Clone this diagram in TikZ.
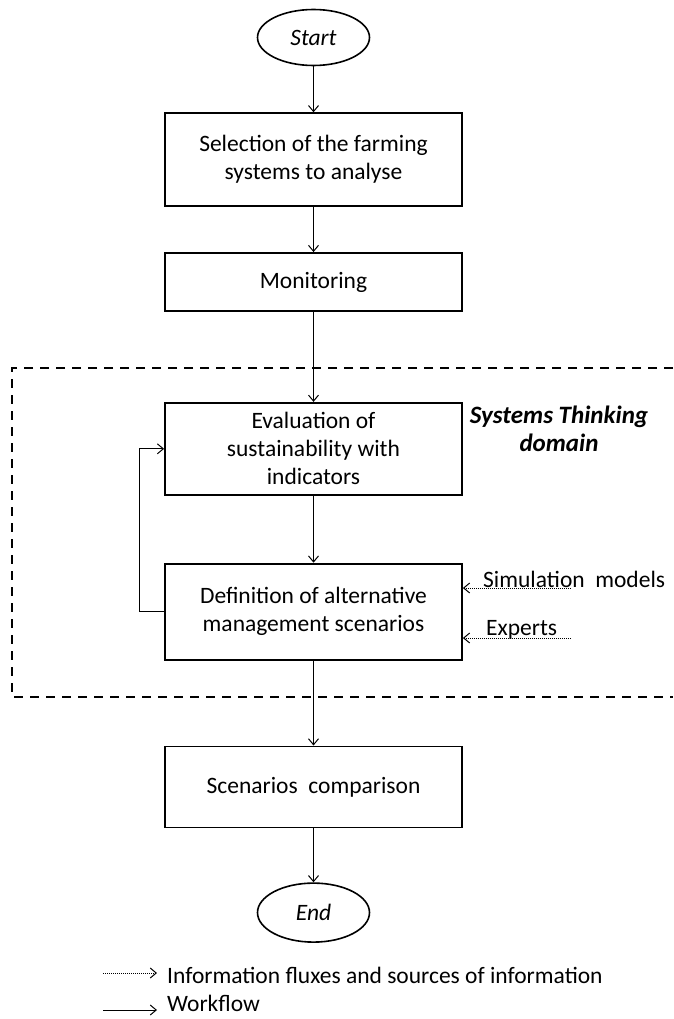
\documentclass[tikz,border=0pt]{standalone}
\usepackage{fontspec}
\setmainfont{Carlito}
\usepackage{tikz}
\usetikzlibrary{positioning,shapes,calc}
\usetikzlibrary{arrows.meta}
\newcommand{\boxfont}{\fontsize{23.5}{28}\selectfont}
\tikzstyle{stepBox} =[rectangle, draw, line width=1.8pt, minimum width=297pt, align=center, font=\boxfont]
\tikzstyle{termEll} =[ellipse, draw, line width=1.6pt, minimum width=112pt, minimum height=56pt, inner sep=0pt, font=\boxfont\itshape]
\tikzstyle{flow}    =[-{Straight Barb[length=6pt,width=10pt]}, line width=1pt]
\tikzstyle{info}    =[flow, densely dotted]
\tikzstyle{plainTxt}=[inner sep=0pt, font=\boxfont]

\begin{document}
\begin{tikzpicture}[x=1pt,y=-1pt]
      \useasboundingbox (0,0) rectangle (673,1019);
      \node[termEll] (start) at (313.5,37.5) {Start};
      \node[stepBox, minimum height=93pt] (1) [below = 46pt of start] {Selection of the farming\\systems to analyse};
      \node[stepBox, minimum height=58pt] (2) [below = 45pt of 1] {Monitoring};
      \node[stepBox, minimum height=92pt, inner ysep=2pt] (3) [below = 90pt of 2] {Evaluation of\\sustainability with\\indicators};
      \node[stepBox, minimum height=96pt] (4) [below = 67pt of 3] {Definition of alternative\\management scenarios};
      \node[stepBox, minimum height=81pt] (5) [below = 85pt of 4] {Scenarios \ comparison};
      \node[termEll, minimum height=59pt] (finish) [below = 54pt of 5] {End};
      % systems thinking domain
      \draw[line width=2.4pt, dash pattern=on 9pt off 7pt] (673,368) -- (12,368) -- (12,697) -- (673,697);
      \node[plainTxt, align=center, font=\fontsize{25}{28}\selectfont\bfseries\itshape] (dom) at (559,429) {Systems Thinking\\domain};
      % sources of information
      \coordinate (sim) at (571,588);
      \coordinate (exp) at (571,638);
      \node[plainTxt, anchor=base west] (simTxt) at (483,587) {Simulation \ models};
      \node[plainTxt, anchor=base west] (expTxt) at (486,635) {Experts};
      \draw[flow] (start) -- (1);
      \draw[flow] (1) -- (2);
      \draw[flow] (2) -- (3);
      \draw[flow] (3) -- (4);
      \draw[flow] (4) -- (5);
      \draw[flow] (5) -- (finish);
      \draw[flow] (4.west) -- ++(-25,0) |- (3.west);
      \draw[info] (sim) -- (sim -| 4.east);
      \draw[info] (exp) -- (exp -| 4.east);
      % legend
      \node[plainTxt, anchor=base west] (leg1) at (167,983) {Information fluxes and sources of information};
      \node[plainTxt, anchor=base west] (leg2) at (167,1011) {Workflow};
      \coordinate (l1) at (103,973);
      \coordinate (l2) at (103,1010);
      \draw[info] (l1) -- (l1 -| 157,0);
      \draw[flow] (l2) -- (l2 -| 157,0);
\end{tikzpicture}
\end{document}
